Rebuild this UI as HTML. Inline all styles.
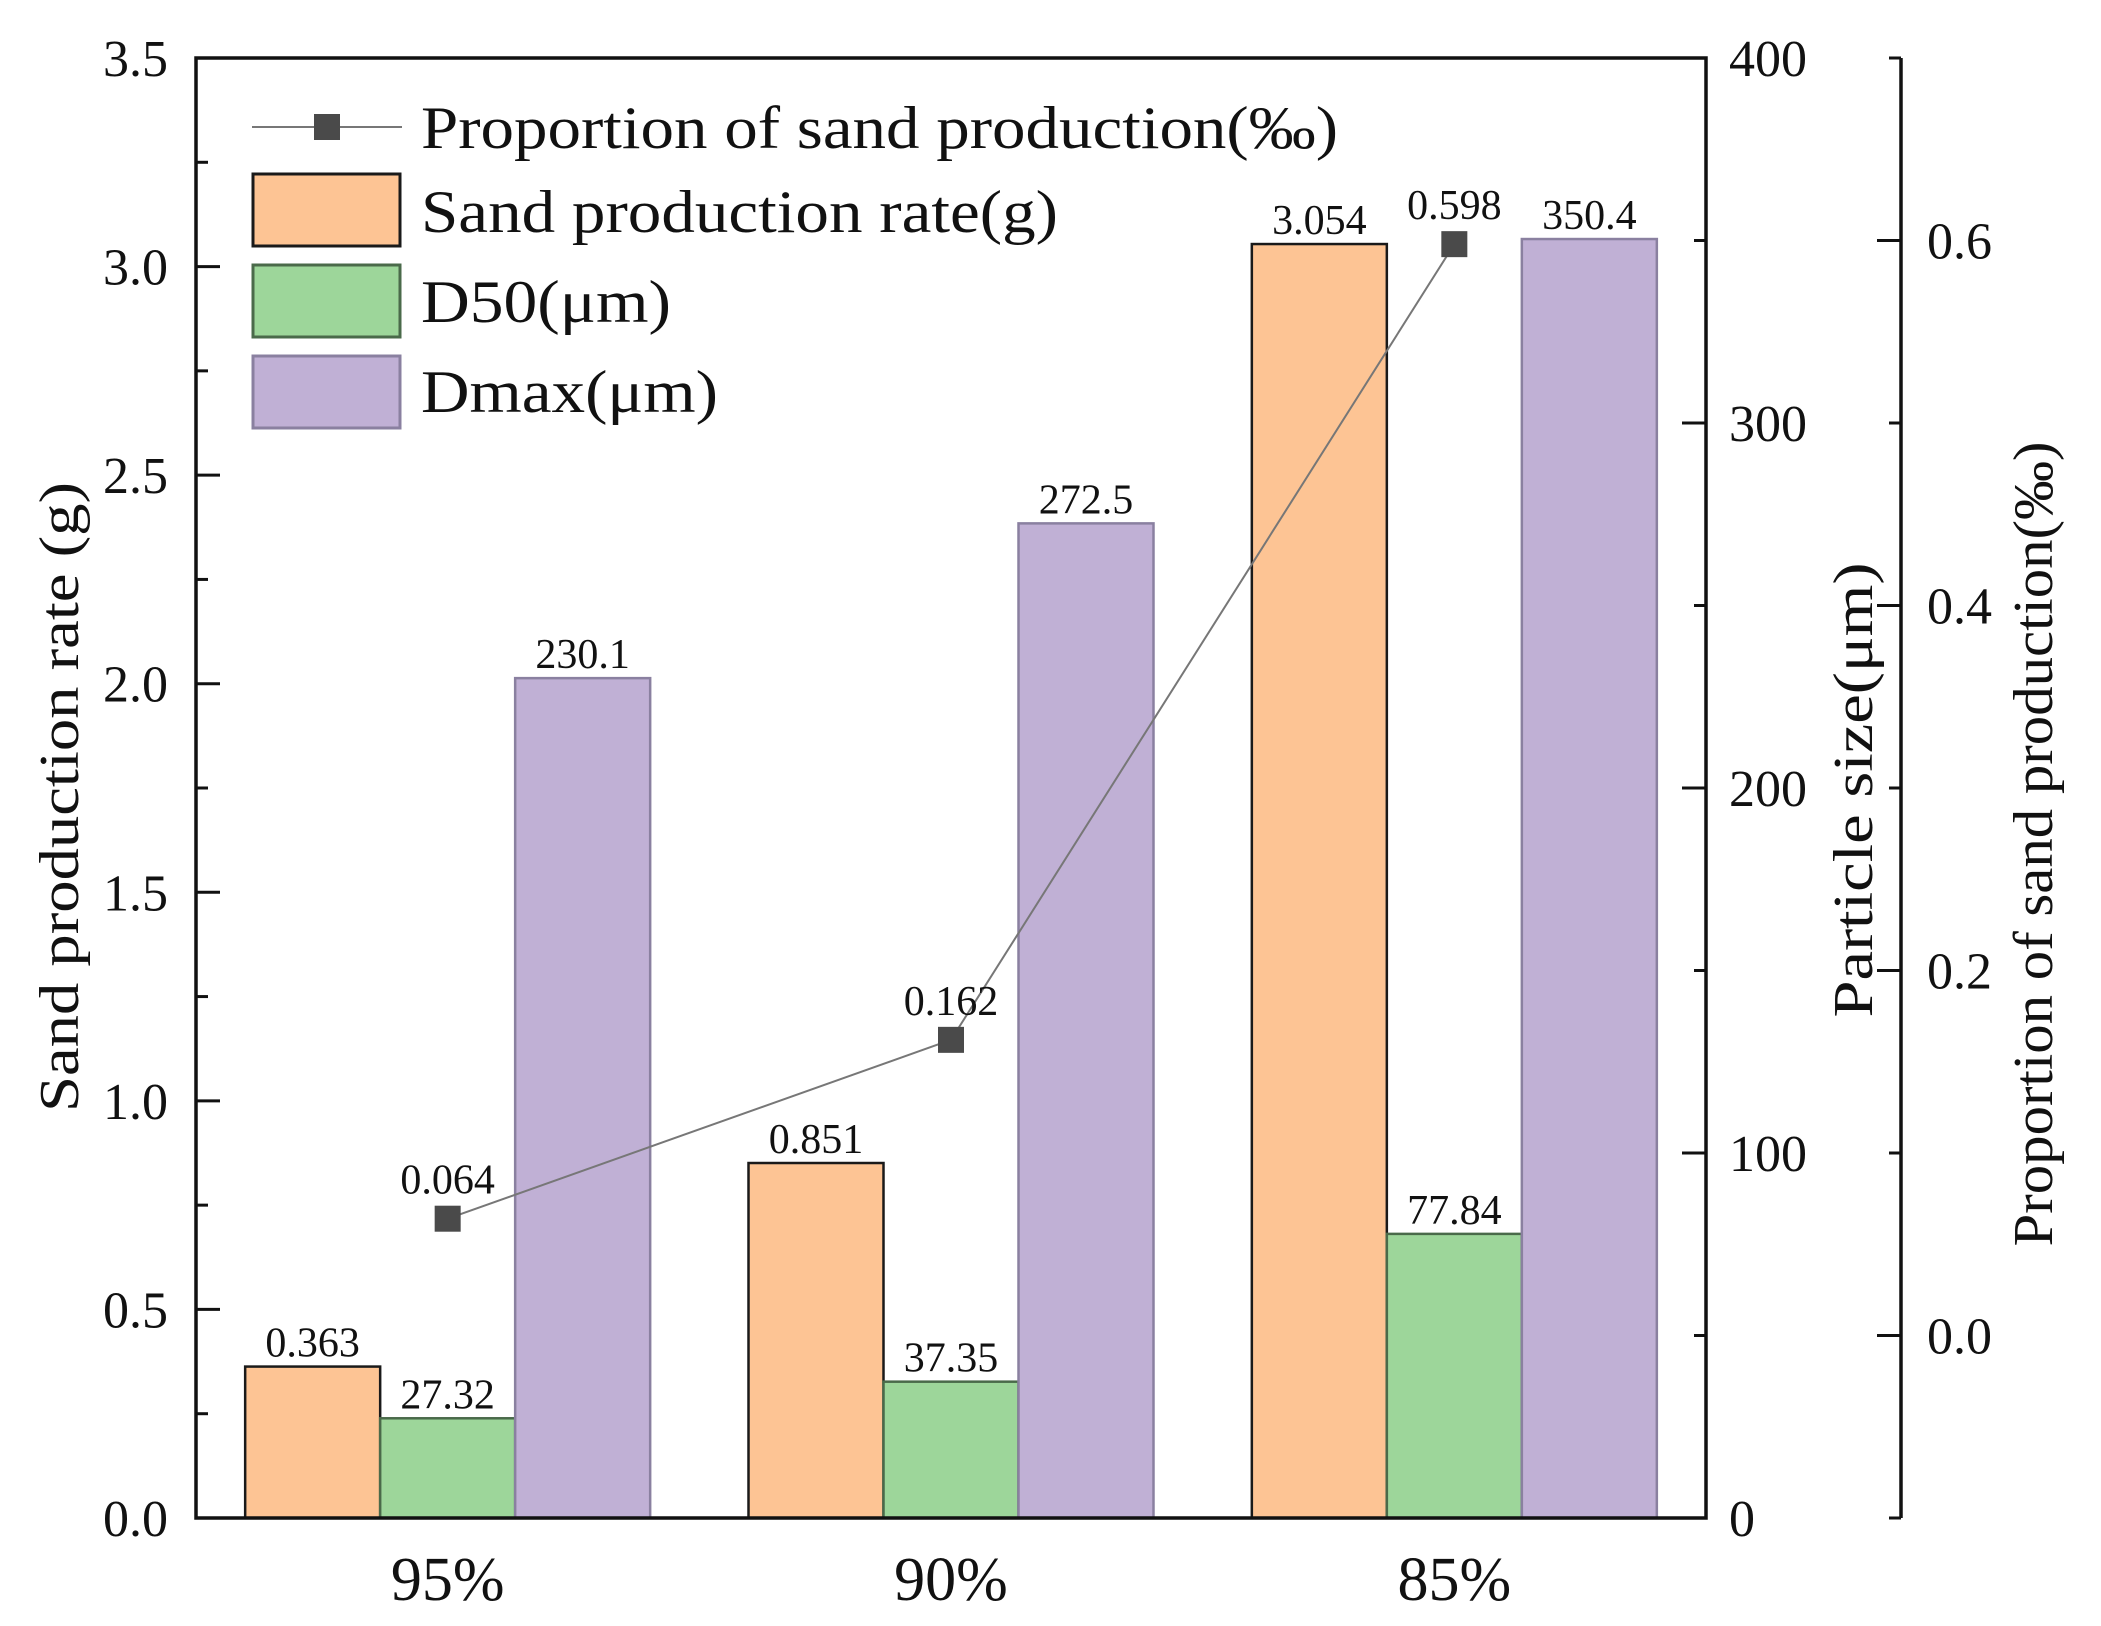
<!DOCTYPE html>
<html><head><meta charset="utf-8"><style>
html,body{margin:0;padding:0;background:#fff}
svg{display:block}
text{font-family:"Liberation Serif","Times New Roman",serif;fill:#111}
</style></head><body>
<svg id="chart" width="2101" height="1626" viewBox="0 0 2101 1626" xmlns="http://www.w3.org/2000/svg">
<g id="bars"></g>
<g id="line"></g>
<g id="axes"></g>
<g id="legend"></g>
</svg>
<script>
const categories = ["95%", "90%", "85%"];
const sandRate = [0.363, 0.851, 3.054];
const d50 = [27.32, 37.35, 77.84];
const dmax = [230.1, 272.5, 350.4];
const proportion = [0.064, 0.162, 0.598];
const leftTicks = ["0.0","0.5","1.0","1.5","2.0","2.5","3.0","3.5"];
const sizeTicks = ["0","100","200","300","400"];
const propTicks = ["0.0","0.2","0.4","0.6"];

const NS = "http://www.w3.org/2000/svg";
const FF = '"Liberation Serif","Times New Roman",serif';
const X0 = 196, X1 = 1706, Y0 = 1518, Y1 = 58, X3 = 1901;
const yL = v => Y0 - (v / 3.5) * (Y0 - Y1);
const yS = v => Y0 - (v / 400) * (Y0 - Y1);
const yP = v => Y0 - ((v + 0.1) / 0.8) * (Y0 - Y1);
const catW = (X1 - X0) / categories.length;
const xC = i => X0 + catW * (i + 0.5);
const BW = 135;

function mk(tag, attrs, parent, txt) {
  const e = document.createElementNS(NS, tag);
  for (const k in attrs) e.setAttribute(k, attrs[k]);
  if (tag === 'text') e.setAttribute('font-family', FF);
  if (txt !== undefined) e.textContent = txt;
  parent.appendChild(e);
  return e;
}
const bars = document.getElementById('bars');
const line = document.getElementById('line');
const axes = document.getElementById('axes');
const legend = document.getElementById('legend');

function bar(x, y, fill, stroke, name, label, i) {
  const r = mk('rect', {x: x, y: y, width: BW, height: Y0 - y, fill: fill, stroke: stroke, 'stroke-width': 2.5}, bars);
  
  
  const t = mk('text', {x: x + BW / 2, y: y - 10, 'font-size': 42, 'text-anchor': 'middle'}, bars, label);
  
  
}
categories.forEach((c, i) => {
  const cx = xC(i);
  bar(cx - 1.5 * BW, yL(sandRate[i]), '#FDC494', '#1a1a1a', 'sand-rate', sandRate[i].toFixed(3), i);
  bar(cx - 0.5 * BW, yS(d50[i]), '#9DD69A', '#4a6a4a', 'd50', d50[i].toFixed(2), i);
  bar(cx + 0.5 * BW, yS(dmax[i]), '#C0B0D5', '#8a80a0', 'dmax', dmax[i].toFixed(1), i);
});
const pts = proportion.map((v, i) => xC(i) + ',' + yP(v)).join(' ');
const pl = mk('polyline', {points: pts, fill: 'none', stroke: '#777', 'stroke-width': 2}, line);


proportion.forEach((v, i) => {
  const m = mk('rect', {x: xC(i) - 13, y: yP(v) - 13, width: 26, height: 26, fill: '#4a4a4a'}, line);
  
  
  const t = mk('text', {x: xC(i), y: yP(v) - 25, 'font-size': 42, 'text-anchor': 'middle'}, line, v.toFixed(3));
  
  
});
const fr = mk('path', {d: `M${X0},${Y1} V${Y0} H${X1} V${Y1} Z`, fill: 'none', stroke: '#111', 'stroke-width': 3.5}, axes);


const ax3 = mk('line', {x1: X3, y1: Y1, x2: X3, y2: Y0, stroke: '#111', 'stroke-width': 3.5}, axes);


mk('line', {x1: X3 - 12, y1: Y1, x2: X3, y2: Y1, stroke: '#111', 'stroke-width': 3}, axes);
for (let k = 0; k <= 14; k++) {
  const v = k * 0.25, y = yL(v), len = k % 2 ? 12 : 24;
  mk('line', {x1: X0, y1: y, x2: X0 + len, y2: y, stroke: '#111', 'stroke-width': 3}, axes);
}
leftTicks.forEach(s => {
  const t = mk('text', {x: 168, y: yL(parseFloat(s)) + 18, 'font-size': 52, 'text-anchor': 'end'}, axes, s);
  
  
});
for (let k = 0; k <= 8; k++) {
  const y = yS(k * 50), len = k % 2 ? 12 : 24;
  mk('line', {x1: X1 - len, y1: y, x2: X1, y2: y, stroke: '#111', 'stroke-width': 3}, axes);
}
sizeTicks.forEach(s => {
  const t = mk('text', {x: 1729, y: yS(parseFloat(s)) + 18, 'font-size': 52}, axes, s);
  
  
});
for (let k = -1; k <= 7; k++) {
  const y = yP(k * 0.1), len = (k % 2 === 0) ? 24 : 12;
  mk('line', {x1: X3 - len, y1: y, x2: X3, y2: y, stroke: '#111', 'stroke-width': 3}, axes);
}
propTicks.forEach(s => {
  const t = mk('text', {x: 1927, y: yP(parseFloat(s)) + 18, 'font-size': 52}, axes, s);
  
  
});
categories.forEach((c, i) => {
  const t = mk('text', {x: xC(i), y: 1600, 'font-size': 62, 'text-anchor': 'middle'}, axes, c);
  
  
});
function vtitle(x, y, len, txt, name) {
  const t = mk('text', {x: 0, y: 0, 'font-size': 56, 'text-anchor': 'middle', textLength: len, lengthAdjust: 'spacingAndGlyphs', transform: `translate(${x},${y}) rotate(-90)`}, axes, txt);
  
  
}
vtitle(78, 797, 630, 'Sand production rate (g)', 'left-axis-title');
vtitle(1872, 790, 455, 'Particle size(\u03bcm)', 'size-axis-title');
vtitle(2052, 844, 805, 'Proportion of sand production(\u2030)', 'proportion-axis-title');
const lg1 = mk('line', {x1: 252, y1: 127, x2: 402, y2: 127, stroke: '#777', 'stroke-width': 2}, legend);


mk('rect', {x: 314, y: 114, width: 26, height: 26, fill: '#4a4a4a'}, legend);
const sw = [[174, '#FDC494', '#1a1a1a', 'legend-sand-rate'], [265, '#9DD69A', '#4a6a4a', 'legend-d50'], [356, '#C0B0D5', '#8a80a0', 'legend-dmax']];
sw.forEach(s => {
  const r = mk('rect', {x: 253, y: s[0], width: 147, height: 72, fill: s[1], stroke: s[2], 'stroke-width': 3}, legend);
  
  
});
const lt = [[148, 'Proportion of sand production(\u2030)', 917], [232, 'Sand production rate(g)', 637], [322, 'D50(\u03bcm)', 250], [412, 'Dmax(\u03bcm)', 297]];
lt.forEach((l, i) => {
  const t = mk('text', {x: 421, y: l[0], 'font-size': 60, textLength: l[2], lengthAdjust: 'spacingAndGlyphs'}, legend, l[1]);
  
  
});
</script>
</body></html>
